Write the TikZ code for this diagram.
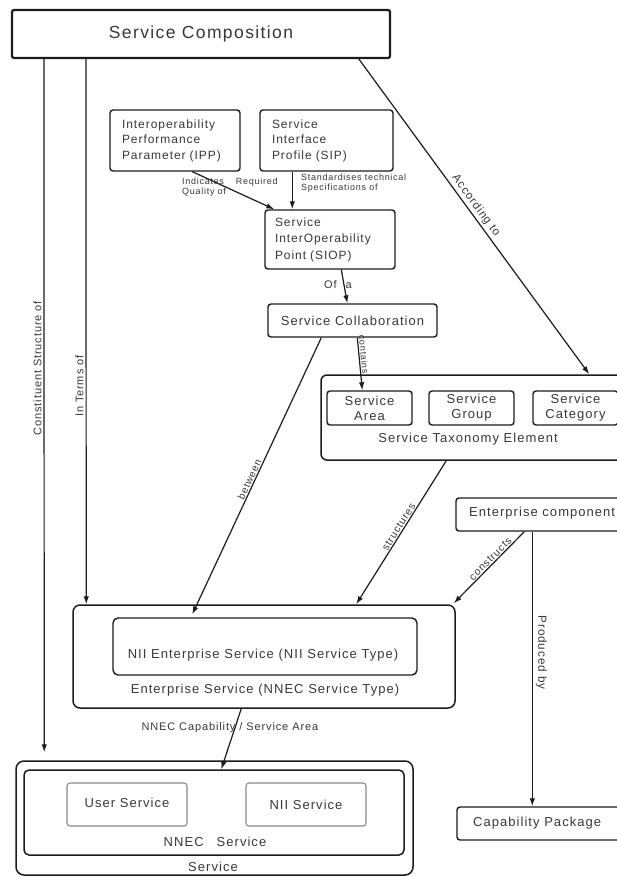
\documentclass[tikz,border=0pt]{standalone}
\usepackage{fontspec}
\setmainfont[LetterSpace=8]{Liberation Sans}
\usetikzlibrary{arrows.meta,calc}
\definecolor{ink}{HTML}{383838}
\definecolor{edge}{HTML}{1C1C1C}
\definecolor{soft}{HTML}{8A8A8A}
\begin{document}
\begin{tikzpicture}[x=1pt,y=-1pt,
  every node/.style={inner sep=0pt, text=ink},
  box/.style={draw=edge, line width=1.4pt, rounded corners=3pt, fill=white},
  frame/.style={draw=edge, line width=1.5pt, rounded corners=7pt, fill=white},
  softbox/.style={draw=soft, line width=1.1pt, rounded corners=3pt, fill=white},
  conn/.style={draw=edge, line width=1.2pt, -{Latex[length=8pt,width=5.5pt]}},
  fbig/.style={font=\fontsize{17.5}{21}\selectfont},
  fmid/.style={font=\fontsize{13}{15}\selectfont},
  fbox/.style={font=\fontsize{12}{15.5}\selectfont},
  flab/.style={font=\fontsize{11}{13}\selectfont},
  fsmall/.style={font=\fontsize{9}{10}\selectfont},
]
\fill[white] (0,0) rectangle (617,877);
\useasboundingbox (0,0) rectangle (617,877);

% ---- boxes ----
\node[box, line width=2.2pt, rounded corners=2pt, minimum width=378pt, minimum height=48pt, fbig] (comp) at (201,34) {Service Composition};

\node[box, minimum width=130pt, minimum height=61pt, text width=106pt, align=left, fbox] (ipp) at (175,140.5) {Interoperability\\Performance\\Parameter (IPP)};
\node[box, minimum width=133pt, minimum height=61pt, text width=109pt, align=left, fbox] (sip) at (326.5,140.5) {Service\\Interface\\Profile (SIP)};
\node[box, minimum width=130pt, minimum height=59pt, text width=110pt, align=left, font=\fontsize{12}{16.5}\selectfont] (siop) at (330,239.5) {Service\\InterOperability\\Point (SIOP)};

\node[box, minimum width=169pt, minimum height=33pt, fmid] (collab) at (352.5,320.5) {Service Collaboration};

\node[frame, rounded corners=6pt, minimum width=319pt, minimum height=85pt] (tax) at (480.5,417.5) {};
\node[box, minimum width=85pt, minimum height=34pt, align=center, fmid] (area) at (369.5,408) {Service\\Area};
\node[box, minimum width=85pt, minimum height=34pt, align=center, fmid] (group) at (471.5,408) {Service\\Group};
\node[box, minimum width=85pt, minimum height=34pt, align=center, fmid] (category) at (575.5,408) {Service\\Category};
\node[fmid] (taxlbl) at (468,439) {Service Taxonomy Element};

\node[box, minimum width=224pt, minimum height=33pt] (entc) at (568,514.5) {};
\node[fmid, anchor=west] (entctext) at (469,513) {Enterprise component};

\node[frame, minimum width=382pt, minimum height=103pt] (ent) at (264,656.5) {};
\node[box, rounded corners=5pt, minimum width=304pt, minimum height=57pt] (nii) at (265,646.5) {};
\node[fmid] (niitext) at (263,655) {NII Enterprise Service (NII Service Type)};
\node[fmid] (entlbl) at (265,690) {Enterprise Service (NNEC Service Type)};

\node[frame, rounded corners=8pt, minimum width=397pt, minimum height=114pt] (svc) at (214.5,818) {};
\node[box, line width=1.5pt, rounded corners=5pt, minimum width=380pt, minimum height=85pt] (nnec) at (214,812.5) {};
\node[softbox, minimum width=120pt, minimum height=43pt, fmid] (user) at (127,804.5) {\raisebox{3pt}{User Service}};
\node[softbox, minimum width=120pt, minimum height=43pt, fmid] (niis) at (306,804.5) {NII Service};
\node[fmid] (nneclbl) at (215,842) {NNEC\hspace{13pt}Service};
\node[fmid] (svclbl) at (213,867) {Service};

\node[box, minimum width=223pt, minimum height=33pt] (cap) at (568.5,823.5) {};
\node[fmid, anchor=west] (captext) at (473,823) {Capability Package};

% ---- connectors ----
\draw[conn] ($(comp.south west)+(33,0)$) -- node[pos=0.446, rotate=90, anchor=south, inner sep=2pt, flab] {Constituent Structure of} ($(svc.north west)+(29,-8)$);
\draw[conn] ($(comp.south west)+(75,0)$) -- node[pos=0.6, rotate=90, anchor=south, inner sep=2pt, flab] {In Terms of} ($(ent.north west)+(14,0)$);
\draw[conn] ($(comp.south west)+(348,0)$) -- node[pos=0.48, sloped, anchor=south, inner sep=2pt, font=\fontsize{11.5}{13}\selectfont] {According to} ($(tax.north west)+(269,0)$);

\draw[conn] ($(ipp.south west)+(83,0)$) -- ($(siop.north west)+(10,0)$);
\node[fsmall, anchor=west, align=left] (ipplbl) at (182,187) {Indicates\hspace{12pt}Required\\Quality of};
\draw[conn] ($(sip.south west)+(33,0)$) -- ($(siop.north west)+(28,0)$);
\node[fsmall, anchor=west, align=left] (siplbl) at (301,183) {Standardises technical\\Specifications of};

\draw[conn] ($(siop.south west)+(77,0)$) -- node[pos=0.43, xshift=-6pt, flab] {Of\hspace{9pt}a} ($(collab.north west)+(80,0)$);

\draw[conn] ($(collab.south west)+(90,0)$) -- node[pos=0.33, sloped, anchor=south, inner sep=1pt, fsmall] {contains} ($(area.north west)+(36,0)$);
\draw[conn] ($(collab.south west)+(54,0)$) -- node[pos=0.52, sloped, anchor=south, inner sep=1pt, font=\fontsize{10}{12}\selectfont] {between} ($(nii.north west)+(80,-3)$);
\draw[conn] ($(tax.south west)+(126,0)$) -- node[pos=0.48, sloped, anchor=south, inner sep=1pt, font=\fontsize{10.5}{12}\selectfont] {structures} ($(ent.north west)+(284,0)$);
\draw[conn] ($(entc.south west)+(69,0)$) -- node[pos=0.43, sloped, anchor=south, inner sep=1pt, font=\fontsize{10.5}{12}\selectfont] {constructs} ($(ent.north east)+(-2,-1)$);
\draw[conn] ($(entc.south west)+(77,0)$) -- node[pos=0.44, rotate=-90, anchor=south, inner sep=3pt, font=\fontsize{11.7}{13}\selectfont] {Produced by} ($(cap.north west)+(76,0)$);

\draw[conn] ($(ent.south west)+(169,0)$) -- node[pos=0.32, xshift=-5pt, font=\fontsize{11}{13}\selectfont] {NNEC Capability / Service Area} ($(nnec.north west)+(198,0)$);
\end{tikzpicture}
\end{document}
